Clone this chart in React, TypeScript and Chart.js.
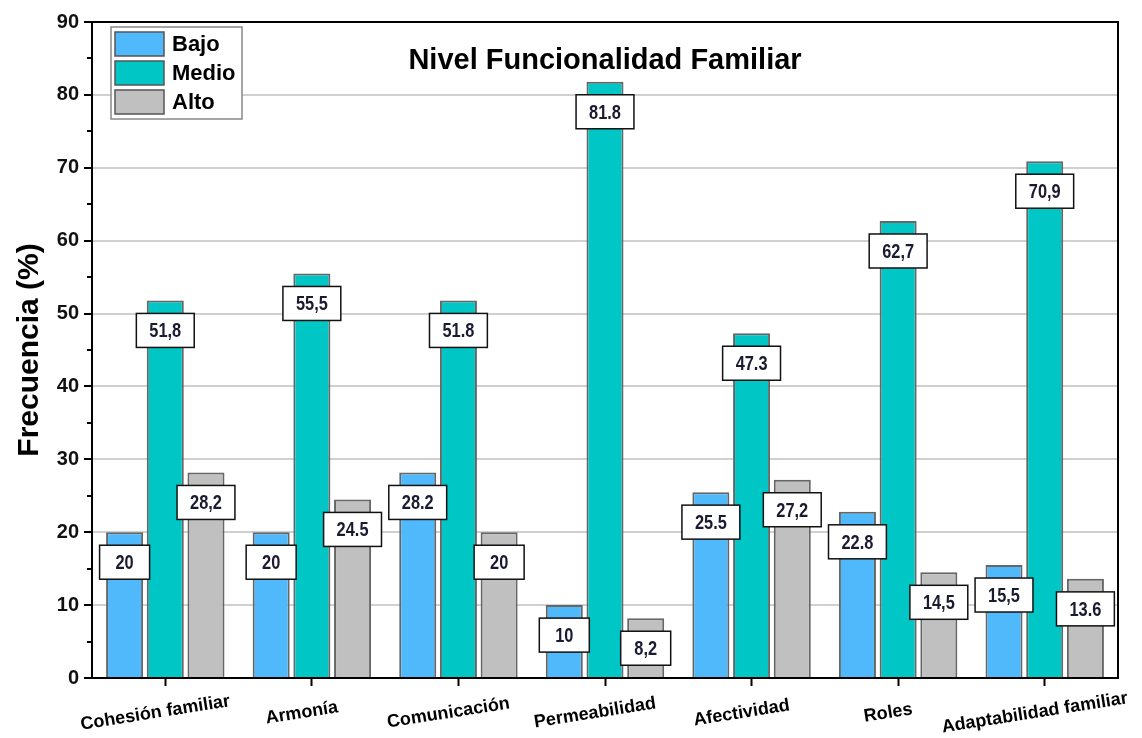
import React, { useEffect, useRef } from 'react';
import { Chart, registerables } from 'chart.js';

Chart.register(...registerables);

const categories = [
  'Cohesión familiar',
  'Armonía',
  'Comunicación',
  'Permeabilidad',
  'Afectividad',
  'Roles',
  'Adaptabilidad familiar',
];
const seriesNames = ['Bajo', 'Medio', 'Alto'];
const bajo = [20, 20, 28.2, 10, 25.5, 22.8, 15.5];
const medio = [51.8, 55.5, 51.8, 81.8, 47.3, 62.7, 70.9];
const alto = [28.2, 24.5, 20, 8.2, 27.2, 14.5, 13.6];
const bajoLabels = ['20', '20', '28.2', '10', '25.5', '22.8', '15,5'];
const medioLabels = ['51,8', '55,5', '51.8', '81.8', '47.3', '62,7', '70,9'];
const altoLabels = ['28,2', '24.5', '20', '8,2', '27,2', '14,5', '13.6'];
const yTicks = [0, 10, 20, 30, 40, 50, 60, 70, 80, 90];
const yMinorTicks = [5, 15, 25, 35, 45, 55, 65, 75, 85];
const title = 'Nivel Funcionalidad Familiar';
const yTitle = 'Frecuencia (%)';

const colors = ['#50B9FC', '#00C6C6', '#C0C0C0'];
const labelSets = [bajoLabels, medioLabels, altoLabels];
const SANS = '"Liberation Sans", Arial, sans-serif';

const decor = {
  id: 'decor',
  afterDraw(chart: any) {
    const { ctx, chartArea: a, scales } = chart;
    const x = scales.x;
    const y = scales.y;
    ctx.save();
    // frame
    ctx.strokeStyle = '#000';
    ctx.lineWidth = 2;
    ctx.strokeRect(a.left, a.top, a.right - a.left, a.bottom - a.top);
    // minor y ticks
    yMinorTicks.forEach((v) => {
      const py = Math.round(y.getPixelForValue(v));
      ctx.beginPath();
      ctx.moveTo(a.left - 5, py);
      ctx.lineTo(a.left, py);
      ctx.stroke();
    });
    // title
    ctx.fillStyle = '#000';
    ctx.font = `bold 29px ${SANS}`;
    ctx.textAlign = 'center';
    ctx.textBaseline = 'middle';
    ctx.fillText(title, (a.left + a.right) / 2, a.top + 39);
    // x labels
    ctx.font = `bold 18px ${SANS}`;
    categories.forEach((c, i) => {
      const px = x.getPixelForTick(i);
      ctx.save();
      ctx.translate(px - 10, a.bottom + 35);
      ctx.rotate((-9 * Math.PI) / 180);
      ctx.fillText(c, 0, 0);
      ctx.restore();
    });
    // legend
    const lx = a.left + 19;
    const ly = a.top + 5;
    ctx.fillStyle = '#fff';
    ctx.fillRect(lx, ly, 131, 92);
    ctx.strokeStyle = '#888';
    ctx.lineWidth = 1.5;
    ctx.strokeRect(lx, ly, 131, 92);
    ctx.font = `bold 22px ${SANS}`;
    ctx.textAlign = 'left';
    seriesNames.forEach((n, i) => {
      const sy = ly + 5 + i * 29;
      ctx.fillStyle = colors[i];
      ctx.fillRect(lx + 4, sy, 49, 24);
      ctx.strokeStyle = '#555';
      ctx.lineWidth = 1.5;
      ctx.strokeRect(lx + 4, sy, 49, 24);
      ctx.fillStyle = '#000';
      ctx.fillText(n, lx + 61, sy + 13);
    });
    // data labels
    ctx.font = `bold 21px ${SANS}`;
    ctx.textAlign = 'center';
    const sx = 0.78;
    chart.data.datasets.forEach((_ds: any, di: number) => {
      const meta = chart.getDatasetMeta(di);
      meta.data.forEach((bar: any, i: number) => {
        const text = labelSets[di][i];
        const w = Math.max(50, ctx.measureText(text).width * sx + 26);
        const h = 34;
        const cx = bar.x;
        const cy = bar.y + 30;
        ctx.fillStyle = '#fff';
        ctx.fillRect(cx - w / 2, cy - h / 2, w, h);
        ctx.strokeStyle = '#111';
        ctx.lineWidth = 1.5;
        ctx.strokeRect(cx - w / 2, cy - h / 2, w, h);
        ctx.save();
        ctx.translate(cx, cy + 1);
        ctx.scale(sx, 1);
        ctx.fillStyle = '#1a1a30';
        ctx.fillText(text, 0, 0);
        ctx.restore();
      });
    });
    ctx.restore();
  },
};

export default function App() {
  const ref = useRef<HTMLCanvasElement>(null);
  useEffect(() => {
    if (!ref.current) return;
    const data = [bajo, medio, alto];
    const chart = new Chart(ref.current, {
      type: 'bar',
      data: {
        labels: categories,
        datasets: seriesNames.map((n, i) => ({
          label: n,
          data: data[i],
          backgroundColor: colors[i],
          borderColor: '#666666',
          borderWidth: 2,
          categoryPercentage: 0.833,
          barPercentage: 0.91,
        })),
      },
      options: {
        responsive: false,
        animation: false,
        layout: { padding: { left: 0, top: 22, right: 24, bottom: 0 } },
        plugins: {
          legend: { display: false },
          tooltip: { enabled: false },
          title: { display: false },
        },
        scales: {
          x: {
            ticks: { color: 'transparent', autoSkip: false, maxRotation: 0, minRotation: 0 },
            grid: {
              drawOnChartArea: false,
              drawTicks: true,
              tickLength: 8,
              tickColor: '#000',
              tickWidth: 2,
              offset: false,
            },
            border: { color: '#000', width: 2 },
            afterFit: (s: any) => {
              s.height = 60;
            },
          },
          y: {
            min: 0,
            max: 90,
            afterBuildTicks: (s: any) => {
              s.ticks = yTicks.map((v) => ({ value: v }));
            },
            ticks: {
              font: { size: 20, weight: 'bold', family: SANS },
              color: '#111',
              padding: 5,
            },
            grid: {
              color: (c: any) => (c.tick && (c.tick.value === 0 || c.tick.value === 90) ? 'transparent' : '#d0d0d0'),
              lineWidth: 2,
              tickColor: '#000',
              tickLength: 8,
              tickWidth: 2,
            },
            border: { color: '#000', width: 2 },
            title: {
              display: true,
              text: yTitle,
              color: '#000',
              font: { size: 30, weight: 'bold', family: SANS },
              padding: { top: 12, bottom: 0 },
            },
            afterFit: (s: any) => {
              s.width = 92;
            },
          },
        },
      },
      plugins: [decor],
    });
    return () => chart.destroy();
  }, []);
  return (
    <div style={{ position: 'fixed', left: 0, top: 0, width: 1142, height: 738, background: '#fff' }}>
      <canvas ref={ref} width={1142} height={738} style={{ display: 'block' }} />
    </div>
  );
}
